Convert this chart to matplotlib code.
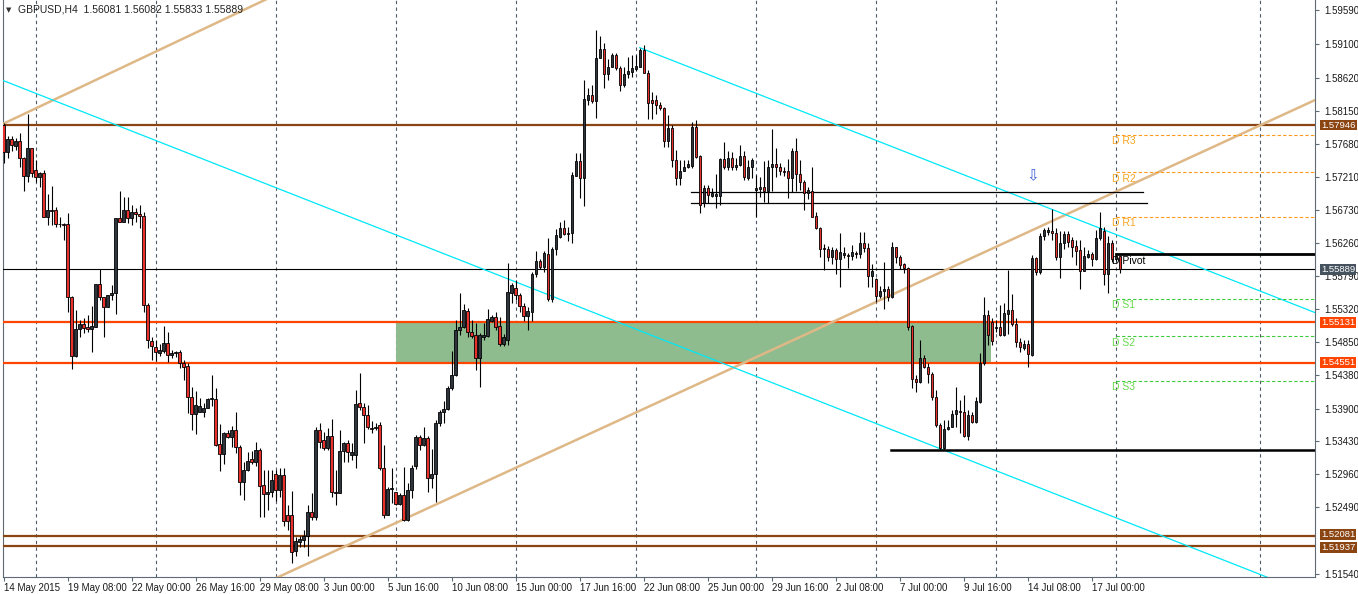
import matplotlib
matplotlib.use("Agg")
import matplotlib.pyplot as plt
import numpy as np

plt.rcParams['font.family'] = ['Liberation Sans', 'DejaVu Sans']

# GBPUSD H4 candles, 14 May 2015 16:00 .. 20 Jul 2015 04:00
opens = [
    1.5795, 1.5756, 1.5775, 1.5765, 1.5772, 1.5748, 1.5722, 1.5762, 1.5730, 1.5720,
    1.5726, 1.5663, 1.5673, 1.5673, 1.5653, 1.5653, 1.5653, 1.5549, 1.5465, 1.5504,
    1.5511, 1.5506, 1.5504, 1.5506, 1.5568, 1.5549, 1.5535, 1.5552, 1.5555, 1.5662,
    1.5656, 1.5673, 1.5662, 1.5670, 1.5668, 1.5665, 1.5538, 1.5486, 1.5478, 1.5469,
    1.5472, 1.5484, 1.5467, 1.5469, 1.5471, 1.5455, 1.5451, 1.5407, 1.5382, 1.5385,
    1.5385, 1.5391, 1.5404, 1.5404, 1.5339, 1.5325, 1.5355, 1.5349, 1.5359, 1.5335,
    1.5285, 1.5302, 1.5318, 1.5314, 1.5331, 1.5281, 1.5268, 1.5271, 1.5297, 1.5274,
    1.5295, 1.5238, 1.5238, 1.5187, 1.5200, 1.5202, 1.5208, 1.5242, 1.5235, 1.5359,
    1.5345, 1.5334, 1.5351, 1.5271, 1.5270, 1.5329, 1.5341, 1.5324, 1.5324, 1.5398,
    1.5392, 1.5381, 1.5362, 1.5362, 1.5367, 1.5305, 1.5238, 1.5275, 1.5271, 1.5254,
    1.5267, 1.5231, 1.5274, 1.5308, 1.5349, 1.5338, 1.5348, 1.5291, 1.5297, 1.5369,
    1.5385, 1.5389, 1.5419, 1.5438, 1.5502, 1.5506, 1.5529, 1.5499, 1.5495, 1.5462,
    1.5492, 1.5494, 1.5515, 1.5521, 1.5508, 1.5482, 1.5488, 1.5555, 1.5562, 1.5552,
    1.5536, 1.5522, 1.5528, 1.5582, 1.5601, 1.5592, 1.5611, 1.5546, 1.5618, 1.5635,
    1.5648, 1.5639, 1.5641, 1.5722, 1.5743, 1.5719, 1.5830, 1.5837, 1.5829, 1.5890,
    1.5903, 1.5867, 1.5877, 1.5895, 1.5876, 1.5852, 1.5867, 1.5870, 1.5875, 1.5877,
    1.5902, 1.5869, 1.5830, 1.5830, 1.5823, 1.5819, 1.5772, 1.5790, 1.5745, 1.5719,
    1.5729, 1.5735, 1.5736, 1.5792, 1.5750, 1.5683, 1.5705, 1.5693, 1.5693, 1.5693,
    1.5746, 1.5735, 1.5748, 1.5735, 1.5738, 1.5750, 1.5719, 1.5735, 1.5702, 1.5703,
    1.5706, 1.5700, 1.5735, 1.5739, 1.5735, 1.5729, 1.5729, 1.5719, 1.5758, 1.5725,
    1.5713, 1.5698, 1.5700, 1.5665, 1.5648, 1.5619, 1.5618, 1.5606, 1.5616, 1.5603,
    1.5609, 1.5609, 1.5608, 1.5612, 1.5611, 1.5626, 1.5619, 1.5579, 1.5575, 1.5551,
    1.5558, 1.5561, 1.5549, 1.5621, 1.5606, 1.5596, 1.5591, 1.5508, 1.5432, 1.5428,
    1.5462, 1.5449, 1.5439, 1.5407, 1.5367, 1.5334, 1.5361, 1.5364, 1.5382, 1.5387,
    1.5385, 1.5351, 1.5381, 1.5371, 1.5399, 1.5455, 1.5524, 1.5514, 1.5505, 1.5506,
    1.5495, 1.5525, 1.5531, 1.5511, 1.5485, 1.5476, 1.5482, 1.5466, 1.5605, 1.5585,
    1.5636, 1.5642, 1.5643, 1.5641, 1.5606, 1.5626, 1.5639, 1.5631, 1.5622, 1.5616,
    1.5586, 1.5606, 1.5611, 1.5603, 1.5633, 1.5643, 1.5582, 1.5626, 1.5603, 1.56081,
]
highs = [
    1.5797, 1.5779, 1.5779, 1.5776, 1.5783, 1.5749, 1.5810, 1.5762, 1.5745, 1.5728,
    1.5730, 1.5696, 1.5708, 1.5678, 1.5663, 1.5655, 1.5669, 1.5551, 1.5531, 1.5516,
    1.5519, 1.5524, 1.5536, 1.5568, 1.5589, 1.5549, 1.5552, 1.5566, 1.5662, 1.5700,
    1.5692, 1.5692, 1.5680, 1.5676, 1.5680, 1.5670, 1.5541, 1.5492, 1.5488, 1.5482,
    1.5508, 1.5499, 1.5474, 1.5472, 1.5474, 1.5459, 1.5455, 1.5421, 1.5415, 1.5405,
    1.5398, 1.5405, 1.5438, 1.5419, 1.5368, 1.5357, 1.5359, 1.5365, 1.5385, 1.5338,
    1.5314, 1.5328, 1.5329, 1.5342, 1.5334, 1.5302, 1.5302, 1.5302, 1.5302, 1.5305,
    1.5305, 1.5252, 1.5272, 1.5207, 1.5208, 1.5217, 1.5252, 1.5270, 1.5364, 1.5369,
    1.5357, 1.5362, 1.5375, 1.5302, 1.5359, 1.5342, 1.5345, 1.5341, 1.5417, 1.5441,
    1.5398, 1.5395, 1.5372, 1.5369, 1.5371, 1.5338, 1.5278, 1.5305, 1.5271, 1.5270,
    1.5307, 1.5284, 1.5309, 1.5352, 1.5352, 1.5364, 1.5351, 1.5332, 1.5374, 1.5388,
    1.5401, 1.5422, 1.5472, 1.5516, 1.5555, 1.5539, 1.5534, 1.5516, 1.5512, 1.5498,
    1.5512, 1.5532, 1.5524, 1.5528, 1.5521, 1.5496, 1.5598, 1.5569, 1.5573, 1.5555,
    1.5541, 1.5535, 1.5585, 1.5615, 1.5603, 1.5615, 1.5633, 1.5621, 1.5646, 1.5656,
    1.5659, 1.5649, 1.5728, 1.5755, 1.5755, 1.5859, 1.5847, 1.5852, 1.5930, 1.5922,
    1.5912, 1.5889, 1.5897, 1.5897, 1.5879, 1.5877, 1.5892, 1.5895, 1.5895, 1.5905,
    1.5909, 1.5873, 1.5842, 1.5837, 1.5827, 1.5820, 1.5809, 1.5795, 1.5759, 1.5745,
    1.5745, 1.5745, 1.5799, 1.5802, 1.5752, 1.5709, 1.5709, 1.5705, 1.5725, 1.5748,
    1.5770, 1.5758, 1.5756, 1.5748, 1.5766, 1.5758, 1.5745, 1.5748, 1.5723, 1.5720,
    1.5743, 1.5745, 1.5789, 1.5762, 1.5740, 1.5735, 1.5746, 1.5762, 1.5776, 1.5745,
    1.5716, 1.5706, 1.5735, 1.5670, 1.5649, 1.5625, 1.5622, 1.5621, 1.5619, 1.5641,
    1.5621, 1.5612, 1.5623, 1.5615, 1.5642, 1.5642, 1.5626, 1.5596, 1.5576, 1.5565,
    1.5599, 1.5565, 1.5628, 1.5621, 1.5609, 1.5598, 1.5592, 1.5509, 1.5438, 1.5488,
    1.5467, 1.5455, 1.5442, 1.5417, 1.5369, 1.5374, 1.5374, 1.5388, 1.5421, 1.5402,
    1.5409, 1.5388, 1.5385, 1.5407, 1.5469, 1.5549, 1.5531, 1.5519, 1.5516, 1.5538,
    1.5541, 1.5588, 1.5554, 1.5519, 1.5491, 1.5488, 1.5488, 1.5609, 1.5606, 1.5641,
    1.5648, 1.5649, 1.5675, 1.5648, 1.5643, 1.5643, 1.5643, 1.5635, 1.5631, 1.5631,
    1.5621, 1.5616, 1.5613, 1.5645, 1.5670, 1.5649, 1.5636, 1.5631, 1.5612, 1.56082,
]
lows = [
    1.5740, 1.5748, 1.5758, 1.5759, 1.5735, 1.5700, 1.5713, 1.5720, 1.5713, 1.5706,
    1.5663, 1.5652, 1.5652, 1.5649, 1.5649, 1.5631, 1.5528, 1.5447, 1.5464, 1.5492,
    1.5498, 1.5499, 1.5471, 1.5506, 1.5545, 1.5492, 1.5535, 1.5545, 1.5525, 1.5656,
    1.5656, 1.5655, 1.5652, 1.5656, 1.5648, 1.5528, 1.5476, 1.5459, 1.5458, 1.5465,
    1.5469, 1.5456, 1.5462, 1.5464, 1.5448, 1.5431, 1.5384, 1.5359, 1.5354, 1.5385,
    1.5378, 1.5391, 1.5394, 1.5337, 1.5301, 1.5311, 1.5348, 1.5335, 1.5327, 1.5267,
    1.5260, 1.5301, 1.5311, 1.5308, 1.5235, 1.5235, 1.5245, 1.5264, 1.5258, 1.5264,
    1.5222, 1.5217, 1.5170, 1.5180, 1.5192, 1.5192, 1.5180, 1.5231, 1.5231, 1.5334,
    1.5331, 1.5331, 1.5264, 1.5252, 1.5270, 1.5314, 1.5314, 1.5317, 1.5305, 1.5388,
    1.5341, 1.5361, 1.5355, 1.5359, 1.5302, 1.5234, 1.5238, 1.5255, 1.5252, 1.5252,
    1.5230, 1.5230, 1.5262, 1.5304, 1.5331, 1.5337, 1.5271, 1.5277, 1.5257, 1.5365,
    1.5369, 1.5388, 1.5417, 1.5436, 1.5495, 1.5505, 1.5492, 1.5491, 1.5445, 1.5421,
    1.5488, 1.5492, 1.5514, 1.5502, 1.5479, 1.5479, 1.5481, 1.5541, 1.5545, 1.5528,
    1.5515, 1.5502, 1.5515, 1.5578, 1.5589, 1.5585, 1.5543, 1.5542, 1.5609, 1.5633,
    1.5637, 1.5629, 1.5626, 1.5722, 1.5690, 1.5679, 1.5823, 1.5826, 1.5805, 1.5890,
    1.5847, 1.5859, 1.5877, 1.5873, 1.5843, 1.5849, 1.5862, 1.5863, 1.5872, 1.5877,
    1.5869, 1.5803, 1.5803, 1.5810, 1.5816, 1.5763, 1.5763, 1.5735, 1.5709, 1.5709,
    1.5729, 1.5733, 1.5733, 1.5748, 1.5669, 1.5678, 1.5683, 1.5692, 1.5676, 1.5680,
    1.5732, 1.5730, 1.5730, 1.5730, 1.5736, 1.5716, 1.5716, 1.5719, 1.5663, 1.5692,
    1.5685, 1.5683, 1.5700, 1.5720, 1.5723, 1.5722, 1.5690, 1.5699, 1.5700, 1.5702,
    1.5673, 1.5689, 1.5663, 1.5646, 1.5606, 1.5588, 1.5601, 1.5596, 1.5582, 1.5563,
    1.5605, 1.5591, 1.5602, 1.5605, 1.5605, 1.5613, 1.5563, 1.5563, 1.5542, 1.5548,
    1.5532, 1.5544, 1.5548, 1.5598, 1.5589, 1.5583, 1.5502, 1.5419, 1.5414, 1.5426,
    1.5448, 1.5426, 1.5402, 1.5364, 1.5331, 1.5331, 1.5359, 1.5364, 1.5364, 1.5355,
    1.5349, 1.5345, 1.5369, 1.5369, 1.5398, 1.5452, 1.5481, 1.5481, 1.5499, 1.5494,
    1.5494, 1.5496, 1.5508, 1.5478, 1.5471, 1.5474, 1.5449, 1.5465, 1.5581, 1.5582,
    1.5631, 1.5637, 1.5631, 1.5602, 1.5576, 1.5618, 1.5621, 1.5606, 1.5595, 1.5561,
    1.5586, 1.5605, 1.5593, 1.5602, 1.5631, 1.5566, 1.5555, 1.5599, 1.5601, 1.55833,
]
closes = [
    1.5756, 1.5775, 1.5766, 1.5772, 1.5748, 1.5722, 1.5762, 1.5726, 1.5720, 1.5726,
    1.5663, 1.5673, 1.5672, 1.5653, 1.5654, 1.5652, 1.5549, 1.5465, 1.5504, 1.5511,
    1.5505, 1.5504, 1.5508, 1.5568, 1.5549, 1.5535, 1.5552, 1.5555, 1.5662, 1.5656,
    1.5673, 1.5662, 1.5670, 1.5668, 1.5665, 1.5538, 1.5488, 1.5479, 1.5471, 1.5474,
    1.5484, 1.5467, 1.5469, 1.5471, 1.5455, 1.5449, 1.5407, 1.5382, 1.5395, 1.5394,
    1.5391, 1.5404, 1.5405, 1.5338, 1.5325, 1.5355, 1.5349, 1.5359, 1.5335, 1.5285,
    1.5302, 1.5315, 1.5314, 1.5331, 1.5279, 1.5268, 1.5271, 1.5288, 1.5274, 1.5295,
    1.5230, 1.5230, 1.5185, 1.5201, 1.5204, 1.5208, 1.5242, 1.5235, 1.5359, 1.5342,
    1.5334, 1.5351, 1.5271, 1.5270, 1.5329, 1.5341, 1.5328, 1.5328, 1.5396, 1.5392,
    1.5381, 1.5364, 1.5361, 1.5363, 1.5305, 1.5238, 1.5275, 1.5277, 1.5254, 1.5267,
    1.5231, 1.5274, 1.5305, 1.5349, 1.5338, 1.5348, 1.5291, 1.5297, 1.5369, 1.5385,
    1.5389, 1.5419, 1.5438, 1.5502, 1.5506, 1.5531, 1.5499, 1.5494, 1.5462, 1.5495,
    1.5495, 1.5518, 1.5521, 1.5506, 1.5482, 1.5492, 1.5556, 1.5566, 1.5552, 1.5536,
    1.5522, 1.5529, 1.5582, 1.5601, 1.5592, 1.5612, 1.5546, 1.5618, 1.5638, 1.5648,
    1.5639, 1.5641, 1.5723, 1.5743, 1.5719, 1.5832, 1.5837, 1.5829, 1.5890, 1.5903,
    1.5867, 1.5877, 1.5895, 1.5876, 1.5852, 1.5867, 1.5872, 1.5876, 1.5879, 1.5902,
    1.5869, 1.5826, 1.5826, 1.5823, 1.5819, 1.5772, 1.5790, 1.5745, 1.5719, 1.5729,
    1.5735, 1.5739, 1.5792, 1.5749, 1.5680, 1.5705, 1.5695, 1.5698, 1.5696, 1.5746,
    1.5735, 1.5748, 1.5735, 1.5738, 1.5750, 1.5720, 1.5735, 1.5745, 1.5705, 1.5706,
    1.5700, 1.5735, 1.5739, 1.5735, 1.5729, 1.5728, 1.5719, 1.5758, 1.5725, 1.5713,
    1.5698, 1.5702, 1.5663, 1.5648, 1.5618, 1.5618, 1.5606, 1.5616, 1.5603, 1.5613,
    1.5612, 1.5608, 1.5613, 1.5611, 1.5626, 1.5619, 1.5579, 1.5586, 1.5551, 1.5558,
    1.5561, 1.5549, 1.5621, 1.5606, 1.5595, 1.5591, 1.5506, 1.5432, 1.5428, 1.5462,
    1.5449, 1.5439, 1.5407, 1.5367, 1.5334, 1.5361, 1.5364, 1.5382, 1.5388, 1.5385,
    1.5351, 1.5381, 1.5371, 1.5401, 1.5455, 1.5524, 1.5495, 1.5486, 1.5506, 1.5495,
    1.5526, 1.5531, 1.5511, 1.5485, 1.5478, 1.5482, 1.5468, 1.5605, 1.5585, 1.5636,
    1.5645, 1.5645, 1.5641, 1.5606, 1.5626, 1.5639, 1.5628, 1.5621, 1.5615, 1.5586,
    1.5608, 1.5611, 1.5603, 1.5633, 1.5648, 1.5582, 1.5626, 1.5603, 1.5608, 1.55889,
]

date_ticks = [0, 16, 32, 48, 64, 80, 96, 112, 128, 144, 160, 176, 192, 208, 224, 240, 256, 272]
date_labels = ["14 May 2015", "19 May 08:00", "22 May 00:00", "26 May 16:00", "29 May 08:00",
               "3 Jun 00:00", "5 Jun 16:00", "10 Jun 08:00", "15 Jun 00:00", "17 Jun 16:00",
               "22 Jun 08:00", "25 Jun 00:00", "29 Jun 16:00", "2 Jul 08:00", "7 Jul 00:00",
               "9 Jul 16:00", "14 Jul 08:00", "17 Jul 00:00"]
week_separators = [8, 38, 68, 98, 128, 158, 188, 218, 248, 278, 314]

# scale labels visible on the right (1.52020 sits under the level boxes)
price_ticks = [1.59590, 1.59100, 1.58620, 1.58150, 1.57680, 1.57210, 1.56730, 1.56260, 1.55790,
               1.55320, 1.54850, 1.54380, 1.53900, 1.53430, 1.52960, 1.52490, 1.51540]

# horizontal levels
levels_brown = [1.57946, 1.52081, 1.51937]
levels_red = [1.55131, 1.54551]
bid = 1.55889

# pivot levels of the current day
pivot_names = ["D R3", "D R2", "D R1", "D Pivot", "D S1", "D S2", "D S3"]
pivot_values = [1.5781, 1.5727, 1.5664, 1.5611, 1.5547, 1.5493, 1.5430]
pivot_start = 278

# drawn objects (bar index, price)
tan_lines = [[(-1, 1.5794), (66, 1.5975)], [(65, 1.5140), (330, 1.5836)]]
cyan_lines = [[(-1, 1.5860), (320, 1.5140)], [(159, 1.5905), (330, 1.5522)]]
thin_segments = [(171.8, 284.8, 1.5699), (171.8, 285.8, 1.5684)]
support_segment = (221.8, 330, 1.5331)
zone = (98, 246.8, 1.54551, 1.55131)
arrow_pos = (257.3, 1.5722)

W, H = 1358, 594
fig = plt.figure(figsize=(W / 100, H / 100), dpi=100)
ax = fig.add_axes([3 / W, 17 / H, 1312 / W, 577 / H])
ax.set_xlim(-0.175, 327.8)
ax.set_ylim(1.51496, 1.5973)

axis_col = '#5e6a76'
for side in ['left', 'bottom', 'right']:
    ax.spines[side].set_color(axis_col)
    ax.spines[side].set_linewidth(0.8)
ax.spines['top'].set_visible(False)

# week separators
for b in week_separators:
    ax.axvline(b, color='#4f5a66', lw=0.8, ls=(0, (3, 3)), zorder=1)

# green zone
ax.add_patch(plt.Rectangle((zone[0], zone[2]), zone[1] - zone[0], zone[3] - zone[2],
                           facecolor='#8fbc8f', edgecolor='none', zorder=2))

for p in levels_brown:
    ax.axhline(p, color='#8b4513', lw=1.6, zorder=3)
for p in levels_red:
    ax.axhline(p, color='#ff4500', lw=1.6, zorder=3)
ax.axhline(bid, color='black', lw=0.8, zorder=3)

for (x0, y0), (x1, y1) in tan_lines:
    ax.plot([x0, x1], [y0, y1], color='#deb887', lw=1.8, zorder=3, solid_capstyle='butt')
for (x0, y0), (x1, y1) in cyan_lines:
    ax.plot([x0, x1], [y0, y1], color='#00e8f8', lw=0.9, zorder=3)
for x0, x1, p in thin_segments:
    ax.plot([x0, x1], [p, p], color='black', lw=0.9, zorder=3)
ax.plot([support_segment[0], support_segment[1]], [support_segment[2]] * 2,
        color='black', lw=1.8, zorder=3)

# pivot lines and labels
for name, val in zip(pivot_names, pivot_values):
    kind = name.split()[1][0]
    if kind == 'R':
        col, tcol = '#ff9a1a', '#f5a623'
    elif kind == 'S':
        col, tcol = '#3dcc3d', '#66d94a'
    else:
        col, tcol = 'black', 'black'
    if kind == 'P':
        ax.plot([pivot_start, 330], [val, val], color='black', lw=2.0, zorder=3)
    else:
        ax.plot([pivot_start, 330], [val, val], color=col, lw=0.8, ls=(0, (3, 2)), zorder=3)
    ax.annotate(name, xy=(277, val), xytext=(0, -5), textcoords='offset points',
                ha='left', va='center', fontsize=7.5, color=tcol, zorder=4)

# candles
x = np.arange(len(closes))
o = np.array(opens)
c = np.array(closes)
up = c >= o
body_col = np.where(up, '#2f353e', '#e8302c')
ax.vlines(x, lows, highs, color='black', lw=0.8, zorder=5)
ax.bar(x, np.abs(c - o), bottom=np.minimum(o, c), width=0.62, color=body_col,
       edgecolor='black', linewidth=0.6, zorder=6)

ax.text(arrow_pos[0], arrow_pos[1], '\u21e9', color='#3a5fd8', fontsize=11,
        ha='center', va='center', family=['DejaVu Sans'], zorder=7)

# axes ticks
ax.set_xticks(date_ticks)
ax.set_xticklabels(date_labels)
for lab in ax.get_xticklabels():
    lab.set_horizontalalignment('left')
ax.tick_params(axis='x', direction='out', length=3, width=0.8, color=axis_col,
               labelsize=7, labelcolor='#1a1a1a', pad=1.5)
ax.yaxis.tick_right()
ax.set_yticks(price_ticks)
ax.set_yticklabels([f"{v:.5f}" for v in price_ticks])
ax.tick_params(axis='y', direction='out', length=3, width=0.8, color=axis_col,
               labelsize=7, labelcolor='#1a1a1a', pad=4)

# price boxes on the right scale (the two close brown levels are nudged apart)
boxes = [(levels_brown[0], '#8b4513', 0), (levels_brown[1], '#8b4513', 1.2),
         (levels_brown[2], '#8b4513', -1.2), (levels_red[0], '#ff4500', 0),
         (levels_red[1], '#ff4500', 0), (bid, '#46535f', 0)]
for v, colr, dy in boxes:
    ax.annotate(f"{v:.5f}", xy=(1, v), xycoords=('axes fraction', 'data'),
                xytext=(4.5, dy), textcoords='offset points', ha='left', va='center',
                fontsize=6.8, color='white', annotation_clip=False, zorder=10,
                bbox=dict(boxstyle='square,pad=0.1', fc=colr, ec='none'))

fig.text(6 / W, 1 - 10 / H, '\u25bc', fontsize=5, color='#333333', va='center',
         family=['DejaVu Sans'])
fig.text(18 / W, 1 - 10 / H, 'GBPUSD,H4  1.56081 1.56082 1.55833 1.55889',
         fontsize=7.5, color='#222222', va='center')

fig.savefig('out.png', dpi=100)
